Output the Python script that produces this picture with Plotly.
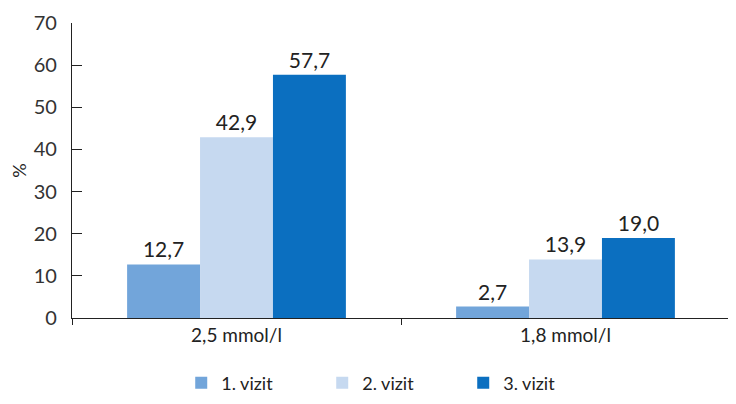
import plotly.graph_objects as go

categories = ["2,5 mmol/l", "1,8 mmol/l"]
series_names = ["1. vizit", "2. vizit", "3. vizit"]
visit1 = [12.7, 2.7]
visit2 = [42.9, 13.9]
visit3 = [57.7, 19.0]
y_ticks = [0, 10, 20, 30, 40, 50, 60, 70]

colors = ["#72a5da", "#c6d9f0", "#0b6fc0"]
font_family = "Lato, 'Open Sans', sans-serif"

fig = go.Figure()
for name, vals, col in zip(series_names, [visit1, visit2, visit3], colors):
    fig.add_trace(go.Bar(
        x=categories, y=vals, name=name,
        marker=dict(color=col, line=dict(width=0)),
        text=[f"{v:.1f}".replace(".", ",") for v in vals],
        textposition="outside", cliponaxis=False,
        textfont=dict(size=21, color="#222222", family=font_family),
    ))

# page body adds an 8px offset, so the figure is 8px smaller than the window
fig.update_layout(
    width=728, height=396,
    margin=dict(l=64, r=6, t=15, b=86, autoexpand=False),
    paper_bgcolor="white", plot_bgcolor="white",
    barmode="group", bargap=0.335, bargroupgap=0,
    font=dict(family=font_family, color="#222222"),
    showlegend=True,
    legend=dict(orientation="h", x=0.166, xanchor="left", y=-0.158, yanchor="top",
                font=dict(size=18, color="#222222"), itemwidth=30,
                traceorder="normal", entrywidth=96),
    uniformtext=dict(mode=False),
)
fig.update_yaxes(
    range=[0, 70], tickvals=y_ticks, showgrid=False, zeroline=False,
    showline=True, linecolor="#222222", linewidth=1.2, automargin=False,
    ticks="inside", ticklen=10, tickcolor="#222222", ticklabelstandoff=10,
    tickfont=dict(size=20, color="#333333"),
    title=dict(text="%", font=dict(size=18, color="#222222"), standoff=14),
)
fig.update_xaxes(
    showgrid=False, showline=True, linecolor="#222222", linewidth=1.2, automargin=False,
    ticks="outside", tickson="boundaries", ticklen=6, tickcolor="#222222",
    tickfont=dict(size=19, color="#222222"),
)
fig.write_html("out.html")
